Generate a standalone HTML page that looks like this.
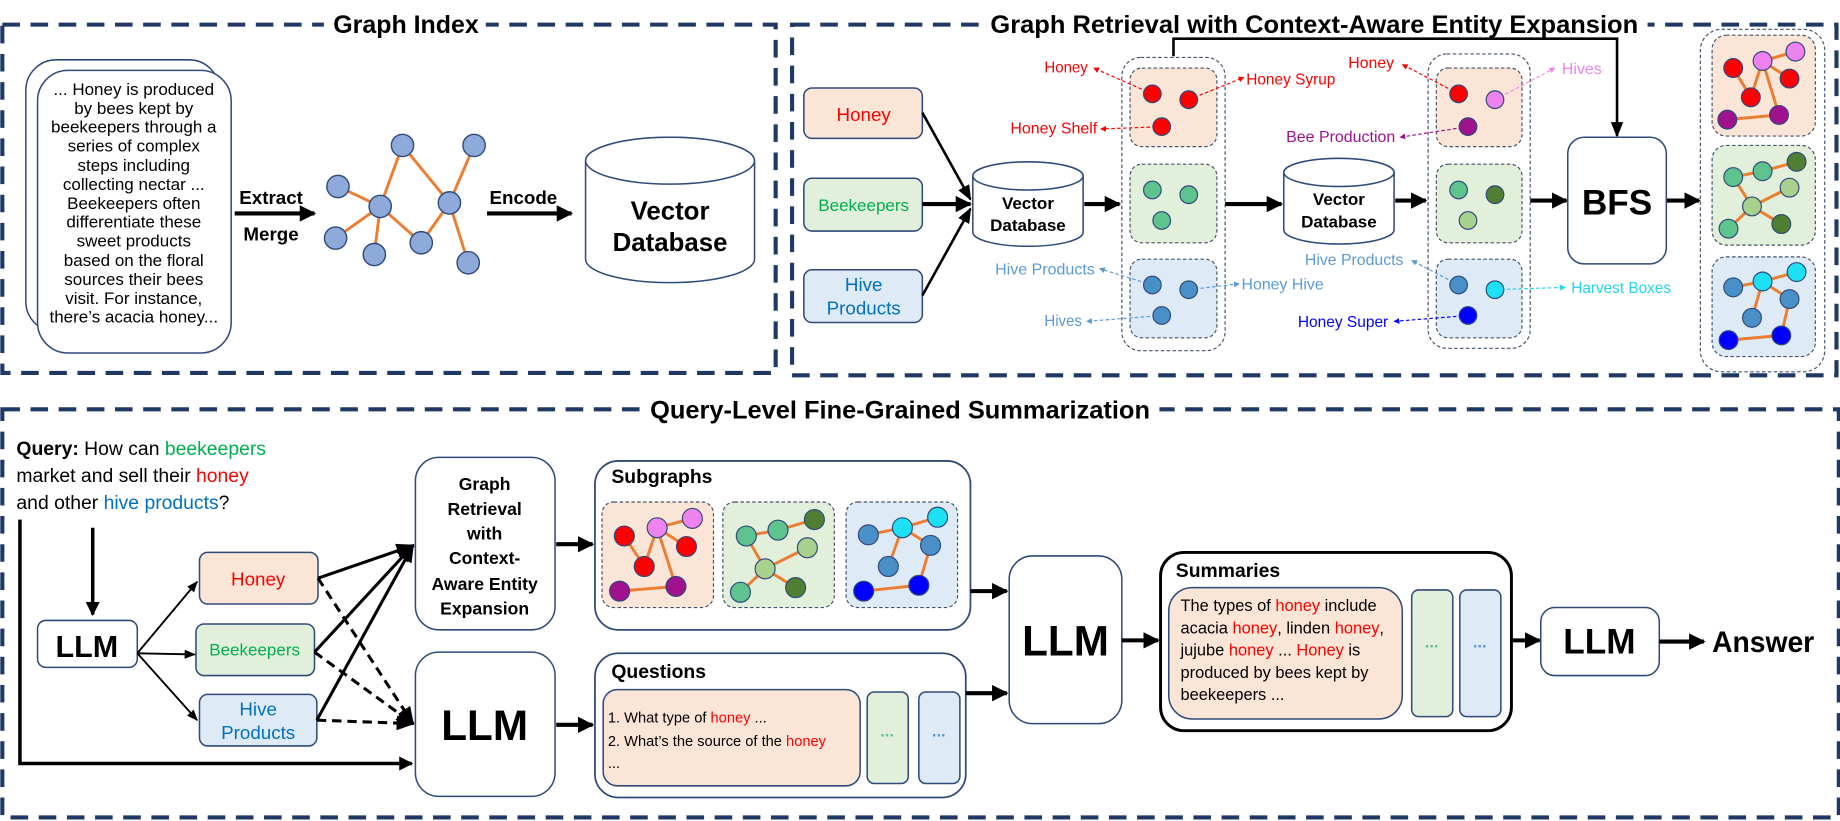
<!DOCTYPE html>
<html><head><meta charset="utf-8"><style>html,body{margin:0;padding:0;background:#fff}svg{display:block}</style></head>
<body>
<svg width="1840" height="821" viewBox="0 0 1568 700" preserveAspectRatio="none" xmlns="http://www.w3.org/2000/svg" font-family="Liberation Sans, sans-serif">
<defs>
<marker id="a" viewBox="0 0 10 10" refX="9" refY="5" markerWidth="4" markerHeight="4" orient="auto"><path d="M0,0L10,5L0,10z" fill="#000"/></marker>
<marker id="at" viewBox="0 0 10 10" refX="9" refY="5" markerWidth="6" markerHeight="6" orient="auto"><path d="M0,1L10,5L0,9z" fill="#000"/></marker>
<marker id="mr" viewBox="0 0 10 10" refX="9" refY="5" markerWidth="5" markerHeight="5" orient="auto"><path d="M0,0L10,5L0,10z" fill="#ff0000"/></marker>
<marker id="mp" viewBox="0 0 10 10" refX="9" refY="5" markerWidth="5" markerHeight="5" orient="auto"><path d="M0,0L10,5L0,10z" fill="#a0128d"/></marker>
<marker id="mv" viewBox="0 0 10 10" refX="9" refY="5" markerWidth="5" markerHeight="5" orient="auto"><path d="M0,0L10,5L0,10z" fill="#ee82ee"/></marker>
<marker id="ml" viewBox="0 0 10 10" refX="9" refY="5" markerWidth="5" markerHeight="5" orient="auto"><path d="M0,0L10,5L0,10z" fill="#5b9bd5"/></marker>
<marker id="mc" viewBox="0 0 10 10" refX="9" refY="5" markerWidth="5" markerHeight="5" orient="auto"><path d="M0,0L10,5L0,10z" fill="#1ed6f0"/></marker>
<marker id="mb" viewBox="0 0 10 10" refX="9" refY="5" markerWidth="5" markerHeight="5" orient="auto"><path d="M0,0L10,5L0,10z" fill="#0000ff"/></marker>
</defs>

<!-- dashed section borders -->
<g fill="none" stroke="#1f3864" stroke-width="3.5" stroke-dasharray="15 9">
<rect x="2" y="21" width="659" height="297"/>
<rect x="675" y="21" width="890" height="299"/>
<rect x="2" y="349" width="1565" height="348"/>
</g>
<g font-weight="bold" font-size="21" text-anchor="middle">
<rect x="276" y="6" width="138" height="28" fill="#fff"/>
<text x="346" y="28" textLength="124" lengthAdjust="spacingAndGlyphs">Graph Index</text>
<rect x="836" y="6" width="568" height="28" fill="#fff"/>
<text x="1120" y="28" textLength="552" lengthAdjust="spacingAndGlyphs">Graph Retrieval with Context-Aware Entity Expansion</text>
<rect x="546" y="334" width="442" height="30" fill="#fff"/>
<text x="767" y="357" textLength="426" lengthAdjust="spacingAndGlyphs">Query-Level Fine-Grained Summarization</text>
</g>

<!-- Graph Index -->
<rect x="22" y="51" width="165" height="232" rx="26" fill="#fff" stroke="#2f4a7a" stroke-width="1.3"/>
<rect x="32" y="60" width="165" height="241" rx="26" fill="#fff" stroke="#2f4a7a" stroke-width="1.3"/>
<g font-size="14.5" text-anchor="middle" fill="#000">
<text x="114" y="81">... Honey is produced</text>
<text x="114" y="97">by bees kept by</text>
<text x="114" y="113">beekeepers through a</text>
<text x="114" y="129">series of complex</text>
<text x="114" y="146">steps including</text>
<text x="114" y="162">collecting nectar ...</text>
<text x="114" y="178">Beekeepers often</text>
<text x="114" y="194">differentiate these</text>
<text x="114" y="210">sweet products</text>
<text x="114" y="227">based on the floral</text>
<text x="114" y="243">sources their bees</text>
<text x="114" y="259">visit. For instance,</text>
<text x="114" y="275">there’s acacia honey...</text>
</g>
<g font-weight="bold" font-size="16" text-anchor="middle">
<text x="231" y="174">Extract</text>
<text x="231" y="205">Merge</text>
<text x="446" y="174">Encode</text>
</g>
<line x1="200" y1="182" x2="268" y2="182" stroke="#000" stroke-width="3.5" marker-end="url(#a)"/>
<line x1="415" y1="182" x2="487" y2="182" stroke="#000" stroke-width="3.5" marker-end="url(#a)"/>
<g stroke="#ed7d31" stroke-width="2.5">
<line x1="288" y1="159" x2="324" y2="176"/><line x1="324" y1="176" x2="343" y2="124"/>
<line x1="343" y1="124" x2="383" y2="173"/><line x1="404" y1="124" x2="383" y2="173"/>
<line x1="383" y1="173" x2="359" y2="207"/><line x1="359" y1="207" x2="324" y2="176"/>
<line x1="324" y1="176" x2="286" y2="203"/><line x1="324" y1="176" x2="319" y2="217"/>
<line x1="383" y1="173" x2="399" y2="224"/>
</g>
<g fill="#8eaadb" stroke="#2f4a7a" stroke-width="1.2">
<circle cx="288" cy="159" r="9.5"/><circle cx="343" cy="124" r="9.5"/><circle cx="404" cy="124" r="9.5"/>
<circle cx="324" cy="176" r="9.5"/><circle cx="383" cy="173" r="9.5"/><circle cx="286" cy="203" r="9.5"/>
<circle cx="319" cy="217" r="9.5"/><circle cx="359" cy="207" r="9.5"/><circle cx="399" cy="224" r="9.5"/>
</g>
<path d="M499,137 V221 A72,20 0 0 0 643,221 V137 A72,20 0 0 0 499,137 Z" fill="#fff" stroke="#2f4a7a" stroke-width="1.3"/>
<ellipse cx="571" cy="137" rx="72" ry="20" fill="#fff" stroke="#2f4a7a" stroke-width="1.3"/>
<g font-weight="bold" font-size="22" text-anchor="middle"><text x="571" y="187">Vector</text><text x="571" y="214">Database</text></g>

<!-- Graph Retrieval -->
<rect x="685" y="75" width="101" height="43" rx="7" fill="#fbe5d6" stroke="#2f4a7a" stroke-width="1.3"/>
<rect x="685" y="152" width="101" height="45" rx="7" fill="#e2efda" stroke="#2f4a7a" stroke-width="1.3"/>
<rect x="685" y="230" width="101" height="45" rx="7" fill="#deebf7" stroke="#2f4a7a" stroke-width="1.3"/>
<text x="736" y="103" font-size="16" text-anchor="middle" fill="#ff0000">Honey</text>
<text x="736" y="180" font-size="14.5" text-anchor="middle" fill="#00b050">Beekeepers</text>
<text x="736" y="248" font-size="16" text-anchor="middle" fill="#0070c0">Hive</text>
<text x="736" y="268" font-size="16" text-anchor="middle" fill="#0070c0">Products</text>
<g stroke="#000" stroke-width="2.2">
<line x1="786" y1="96" x2="827" y2="170" marker-end="url(#at)"/>
<line x1="786" y1="174" x2="827" y2="174" stroke-width="3.5" marker-end="url(#a)"/>
<line x1="786" y1="252" x2="827" y2="178" marker-end="url(#at)"/>
<line x1="924" y1="174" x2="954" y2="174" stroke-width="3.5" marker-end="url(#a)"/>
<line x1="1044" y1="174" x2="1092" y2="174" stroke-width="3.5" marker-end="url(#a)"/>
<line x1="1189" y1="171" x2="1215" y2="171" stroke-width="3.5" marker-end="url(#a)"/>
<line x1="1304" y1="171" x2="1335" y2="171" stroke-width="3.5" marker-end="url(#a)"/>
<line x1="1420" y1="171" x2="1448" y2="171" stroke-width="3.5" marker-end="url(#a)"/>
<polyline points="1000,48 1000,33 1378,33 1378,116" fill="none" marker-end="url(#at)"/>
</g>
<path d="M829,150 V198 A47,12 0 0 0 923,198 V150 A47,12 0 0 0 829,150 Z" fill="#fff" stroke="#2f4a7a" stroke-width="1.3"/>
<ellipse cx="876" cy="150" rx="47" ry="12" fill="#fff" stroke="#2f4a7a" stroke-width="1.3"/>
<g font-weight="bold" font-size="14.5" text-anchor="middle"><text x="876" y="178">Vector</text><text x="876" y="197">Database</text></g>
<path d="M1094,147 V196 A47,12 0 0 0 1188,196 V147 A47,12 0 0 0 1094,147 Z" fill="#fff" stroke="#2f4a7a" stroke-width="1.3"/>
<ellipse cx="1141" cy="147" rx="47" ry="12" fill="#fff" stroke="#2f4a7a" stroke-width="1.3"/>
<g font-weight="bold" font-size="14.5" text-anchor="middle"><text x="1141" y="175">Vector</text><text x="1141" y="194">Database</text></g>

<!-- columns -->
<g fill="none" stroke="#44546a" stroke-width="1" stroke-dasharray="3 2">
<rect x="956" y="49" width="88" height="250" rx="16"/>
<rect x="1217" y="46" width="87" height="251" rx="16"/>
<rect x="1449" y="25" width="106" height="292" rx="18"/>
</g>
<g stroke="#44546a" stroke-width="1" stroke-dasharray="3 2">
<rect x="963" y="58" width="74" height="67" rx="10" fill="#fbe5d6"/>
<rect x="963" y="140" width="74" height="67" rx="10" fill="#e2efda"/>
<rect x="963" y="221" width="74" height="67" rx="10" fill="#deebf7"/>
<rect x="1224" y="58" width="73" height="67" rx="10" fill="#fbe5d6"/>
<rect x="1224" y="140" width="73" height="67" rx="10" fill="#e2efda"/>
<rect x="1224" y="221" width="73" height="67" rx="10" fill="#deebf7"/>
<rect x="1459" y="30" width="88" height="86" rx="12" fill="#fbe5d6"/>
<rect x="1459" y="124" width="88" height="85" rx="12" fill="#e2efda"/>
<rect x="1459" y="219" width="88" height="85" rx="12" fill="#deebf7"/>
</g>
<!-- label arrows -->
<g fill="none" stroke-width="1" stroke-dasharray="3 2">
<line x1="982" y1="80" x2="932" y2="58" stroke="#ff0000" marker-end="url(#mr)"/>
<line x1="1013" y1="85" x2="1060" y2="66" stroke="#ff0000" marker-end="url(#mr)"/>
<line x1="990" y1="108" x2="938" y2="110" stroke="#ff0000" marker-end="url(#mr)"/>
<line x1="982" y1="243" x2="937" y2="229" stroke="#5b9bd5" marker-end="url(#ml)"/>
<line x1="1013" y1="247" x2="1056" y2="242" stroke="#5b9bd5" marker-end="url(#ml)"/>
<line x1="990" y1="269" x2="926" y2="274" stroke="#5b9bd5" marker-end="url(#ml)"/>
<line x1="1243" y1="80" x2="1195" y2="55" stroke="#ff0000" marker-end="url(#mr)"/>
<line x1="1274" y1="85" x2="1325" y2="58" stroke="#ee82ee" marker-end="url(#mv)"/>
<line x1="1251" y1="108" x2="1193" y2="117" stroke="#a0128d" marker-end="url(#mp)"/>
<line x1="1243" y1="243" x2="1203" y2="222" stroke="#5b9bd5" marker-end="url(#ml)"/>
<line x1="1274" y1="247" x2="1334" y2="245" stroke="#1ed6f0" marker-end="url(#mc)"/>
<line x1="1251" y1="269" x2="1188" y2="274" stroke="#0000ff" marker-end="url(#mb)"/>
</g>
<g font-size="13">
<text x="890" y="62" fill="#ff0000" textLength="37" lengthAdjust="spacingAndGlyphs">Honey</text>
<text x="1062" y="72" fill="#ff0000" textLength="76" lengthAdjust="spacingAndGlyphs">Honey Syrup</text>
<text x="861" y="114" fill="#ff0000" textLength="74" lengthAdjust="spacingAndGlyphs">Honey Shelf</text>
<text x="848" y="234" fill="#5b9bd5" textLength="85" lengthAdjust="spacingAndGlyphs">Hive Products</text>
<text x="1058" y="247" fill="#5b9bd5" textLength="70" lengthAdjust="spacingAndGlyphs">Honey Hive</text>
<text x="890" y="278" fill="#5b9bd5" textLength="32" lengthAdjust="spacingAndGlyphs">Hives</text>
<text x="1149" y="58" fill="#ff0000" textLength="39" lengthAdjust="spacingAndGlyphs">Honey</text>
<text x="1331" y="63" fill="#ee82ee" textLength="34" lengthAdjust="spacingAndGlyphs">Hives</text>
<text x="1096" y="121" fill="#a0128d" textLength="93" lengthAdjust="spacingAndGlyphs">Bee Production</text>
<text x="1112" y="226" fill="#5b9bd5" textLength="84" lengthAdjust="spacingAndGlyphs">Hive Products</text>
<text x="1339" y="250" fill="#1ed6f0" textLength="85" lengthAdjust="spacingAndGlyphs">Harvest Boxes</text>
<text x="1106" y="279" fill="#0000ff" textLength="77" lengthAdjust="spacingAndGlyphs">Honey Super</text>
</g>
<g stroke="#2f4a7a" stroke-width="1">
<circle cx="982" cy="80" r="7.5" fill="#ff0000"/><circle cx="1013" cy="85" r="7.5" fill="#ff0000"/><circle cx="990" cy="108" r="7.5" fill="#ff0000"/>
<circle cx="982" cy="162" r="7.5" fill="#5ec38d"/><circle cx="1013" cy="166" r="7.5" fill="#5ec38d"/><circle cx="990" cy="188" r="7.5" fill="#5ec38d"/>
<circle cx="982" cy="243" r="7.5" fill="#4a90c8"/><circle cx="1013" cy="247" r="7.5" fill="#4a90c8"/><circle cx="990" cy="269" r="7.5" fill="#4a90c8"/>
<circle cx="1243" cy="80" r="7.5" fill="#ff0000"/><circle cx="1274" cy="85" r="7.5" fill="#ee82ee"/><circle cx="1251" cy="108" r="7.5" fill="#a0128d"/>
<circle cx="1243" cy="162" r="7.5" fill="#5ec38d"/><circle cx="1274" cy="166" r="7.5" fill="#507e32"/><circle cx="1251" cy="188" r="7.5" fill="#a9d18e"/>
<circle cx="1243" cy="243" r="7.5" fill="#4a90c8"/><circle cx="1274" cy="247" r="7.5" fill="#1ee0f5"/><circle cx="1251" cy="269" r="7.5" fill="#0000ff"/>
</g>
<rect x="1336" y="117" width="84" height="108" rx="14" fill="#fff" stroke="#2f4a7a" stroke-width="1.3"/>
<text x="1378" y="183" font-size="30" font-weight="bold" text-anchor="middle">BFS</text>

<!-- result graphs -->
<g stroke="#ed7d31" stroke-width="2.5">
<line x1="1477" y1="58" x2="1492" y2="83"/><line x1="1502" y1="52" x2="1492" y2="83"/><line x1="1502" y1="52" x2="1530" y2="44"/>
<line x1="1502" y1="52" x2="1525" y2="67"/><line x1="1502" y1="52" x2="1516" y2="98"/><line x1="1472" y1="102" x2="1516" y2="98"/>
<line x1="1477" y1="151" x2="1502" y2="146"/><line x1="1502" y1="146" x2="1531" y2="138"/><line x1="1477" y1="151" x2="1493" y2="176"/>
<line x1="1493" y1="176" x2="1525" y2="160"/><line x1="1493" y1="176" x2="1473" y2="195"/><line x1="1493" y1="176" x2="1518" y2="191"/>
<line x1="1477" y1="245" x2="1502" y2="240"/><line x1="1502" y1="240" x2="1531" y2="232"/><line x1="1502" y1="240" x2="1525" y2="255"/>
<line x1="1502" y1="240" x2="1493" y2="271"/><line x1="1525" y1="255" x2="1518" y2="286"/><line x1="1473" y1="290" x2="1518" y2="286"/>
</g>
<g stroke="#2f4a7a" stroke-width="1">
<circle cx="1477" cy="58" r="8" fill="#ff0000"/><circle cx="1502" cy="52" r="8" fill="#ee82ee"/><circle cx="1530" cy="44" r="8" fill="#ee82ee"/>
<circle cx="1525" cy="67" r="8" fill="#ff0000"/><circle cx="1492" cy="83" r="8" fill="#ff0000"/><circle cx="1472" cy="102" r="8" fill="#a0128d"/><circle cx="1516" cy="98" r="8" fill="#a0128d"/>
<circle cx="1477" cy="151" r="8" fill="#5ec38d"/><circle cx="1502" cy="146" r="8" fill="#5ec38d"/><circle cx="1531" cy="138" r="8" fill="#507e32"/>
<circle cx="1525" cy="160" r="8" fill="#a9d18e"/><circle cx="1493" cy="176" r="8" fill="#a9d18e"/><circle cx="1473" cy="195" r="8" fill="#5ec38d"/><circle cx="1518" cy="191" r="8" fill="#507e32"/>
<circle cx="1477" cy="245" r="8" fill="#4a90c8"/><circle cx="1502" cy="240" r="8" fill="#1ee0f5"/><circle cx="1531" cy="232" r="8" fill="#1ee0f5"/>
<circle cx="1525" cy="255" r="8" fill="#4a90c8"/><circle cx="1493" cy="271" r="8" fill="#4a90c8"/><circle cx="1473" cy="290" r="8" fill="#0000ff"/><circle cx="1518" cy="286" r="8" fill="#0000ff"/>
</g>

<!-- Bottom section -->
<g font-size="16.5">
<text x="14" y="388"><tspan font-weight="bold">Query:</tspan> How can <tspan fill="#00b050">beekeepers</tspan></text>
<text x="14" y="411">market and sell their <tspan fill="#ff0000">honey</tspan></text>
<text x="14" y="434">and other <tspan fill="#0070c0">hive products</tspan>?</text>
</g>
<polyline points="17,443 17,651 351,651" fill="none" stroke="#000" stroke-width="3" marker-end="url(#a)"/>
<line x1="79" y1="450" x2="79" y2="524" stroke="#000" stroke-width="3" marker-end="url(#a)"/>
<rect x="32" y="529" width="85" height="40" rx="7" fill="#fff" stroke="#2f4a7a" stroke-width="1.3"/>
<text x="74" y="560" font-size="26" font-weight="bold" text-anchor="middle">LLM</text>
<rect x="170" y="471" width="101" height="44" rx="7" fill="#fbe5d6" stroke="#2f4a7a" stroke-width="1.3"/>
<rect x="167" y="532" width="101" height="44" rx="7" fill="#e2efda" stroke="#2f4a7a" stroke-width="1.3"/>
<rect x="170" y="592" width="100" height="44" rx="7" fill="#deebf7" stroke="#2f4a7a" stroke-width="1.3"/>
<text x="220" y="499" font-size="16" text-anchor="middle" fill="#ff0000">Honey</text>
<text x="217" y="559" font-size="14.5" text-anchor="middle" fill="#00b050">Beekeepers</text>
<text x="220" y="610" font-size="16" text-anchor="middle" fill="#0070c0">Hive</text>
<text x="220" y="630" font-size="16" text-anchor="middle" fill="#0070c0">Products</text>
<g stroke="#000" stroke-width="1.6">
<line x1="117" y1="557" x2="168" y2="496" marker-end="url(#at)"/>
<line x1="117" y1="557" x2="166" y2="558" marker-end="url(#at)"/>
<line x1="117" y1="557" x2="168" y2="614" marker-end="url(#at)"/>
</g>
<g stroke="#000" stroke-width="2.6">
<line x1="271" y1="493" x2="352" y2="465" marker-end="url(#at)"/>
<line x1="268" y1="556" x2="352" y2="465" marker-end="url(#at)"/>
<line x1="270" y1="614" x2="352" y2="465" marker-end="url(#at)"/>
</g>
<g stroke="#000" stroke-width="2.6" stroke-dasharray="8 5">
<line x1="271" y1="493" x2="352" y2="617" marker-end="url(#at)"/>
<line x1="268" y1="556" x2="352" y2="617" marker-end="url(#at)"/>
<line x1="270" y1="614" x2="352" y2="617" marker-end="url(#at)"/>
</g>
<rect x="354" y="390" width="119" height="147" rx="20" fill="#fff" stroke="#2f4a7a" stroke-width="1.3"/>
<g font-size="15" font-weight="bold" text-anchor="middle">
<text x="413" y="418">Graph</text><text x="413" y="439">Retrieval</text><text x="413" y="460">with</text>
<text x="413" y="481">Context-</text><text x="413" y="503">Aware Entity</text><text x="413" y="524">Expansion</text>
</g>
<rect x="354" y="556" width="119" height="123" rx="20" fill="#fff" stroke="#2f4a7a" stroke-width="1.3"/>
<text x="413" y="631" font-size="36" font-weight="bold" text-anchor="middle">LLM</text>
<line x1="474" y1="464" x2="505" y2="464" stroke="#000" stroke-width="3.5" marker-end="url(#a)"/>
<line x1="474" y1="618" x2="505" y2="618" stroke="#000" stroke-width="3.5" marker-end="url(#a)"/>

<rect x="507" y="393" width="320" height="144" rx="20" fill="#fff" stroke="#2f4a7a" stroke-width="1.5"/>
<text x="521" y="412" font-size="16.5" font-weight="bold">Subgraphs</text>
<g stroke="#44546a" stroke-width="1" stroke-dasharray="3 2">
<rect x="513" y="428" width="95" height="90" rx="10" fill="#fbe5d6"/>
<rect x="616" y="428" width="95" height="90" rx="10" fill="#e2efda"/>
<rect x="721" y="428" width="95" height="90" rx="10" fill="#deebf7"/>
</g>
<g stroke="#ed7d31" stroke-width="2.5">
<line x1="532" y1="457" x2="549" y2="483"/><line x1="560" y1="450" x2="549" y2="483"/><line x1="560" y1="450" x2="590" y2="442"/>
<line x1="560" y1="450" x2="585" y2="466"/><line x1="560" y1="450" x2="576" y2="500"/><line x1="528" y1="504" x2="576" y2="500"/>
<line x1="636" y1="457" x2="663" y2="452"/><line x1="663" y1="452" x2="694" y2="443"/><line x1="636" y1="457" x2="652" y2="485"/>
<line x1="652" y1="485" x2="688" y2="467"/><line x1="652" y1="485" x2="631" y2="505"/><line x1="652" y1="485" x2="678" y2="501"/>
<line x1="740" y1="456" x2="769" y2="450"/><line x1="769" y1="450" x2="799" y2="441"/><line x1="769" y1="450" x2="793" y2="465"/>
<line x1="769" y1="450" x2="757" y2="483"/><line x1="793" y1="465" x2="783" y2="499"/><line x1="736" y1="504" x2="783" y2="499"/>
</g>
<g stroke="#2f4a7a" stroke-width="1">
<circle cx="532" cy="457" r="8.5" fill="#ff0000"/><circle cx="560" cy="450" r="8.5" fill="#ee82ee"/><circle cx="590" cy="442" r="8.5" fill="#ee82ee"/>
<circle cx="585" cy="466" r="8.5" fill="#ff0000"/><circle cx="549" cy="483" r="8.5" fill="#ff0000"/><circle cx="528" cy="504" r="8.5" fill="#a0128d"/><circle cx="576" cy="500" r="8.5" fill="#a0128d"/>
<circle cx="636" cy="457" r="8.5" fill="#5ec38d"/><circle cx="663" cy="452" r="8.5" fill="#5ec38d"/><circle cx="694" cy="443" r="8.5" fill="#507e32"/>
<circle cx="688" cy="467" r="8.5" fill="#a9d18e"/><circle cx="652" cy="485" r="8.5" fill="#a9d18e"/><circle cx="631" cy="505" r="8.5" fill="#5ec38d"/><circle cx="678" cy="501" r="8.5" fill="#507e32"/>
<circle cx="740" cy="456" r="8.5" fill="#4a90c8"/><circle cx="769" cy="450" r="8.5" fill="#1ee0f5"/><circle cx="799" cy="441" r="8.5" fill="#1ee0f5"/>
<circle cx="793" cy="465" r="8.5" fill="#4a90c8"/><circle cx="757" cy="483" r="8.5" fill="#4a90c8"/><circle cx="736" cy="504" r="8.5" fill="#0000ff"/><circle cx="783" cy="499" r="8.5" fill="#0000ff"/>
</g>

<rect x="507" y="557" width="316" height="123" rx="20" fill="#fff" stroke="#2f4a7a" stroke-width="1.5"/>
<text x="521" y="578" font-size="16.5" font-weight="bold">Questions</text>
<rect x="514" y="588" width="219" height="82" rx="12" fill="#fbe5d6" stroke="#2f4a7a" stroke-width="1.3"/>
<rect x="739" y="590" width="35" height="78" rx="6" fill="#e2efda" stroke="#2f4a7a" stroke-width="1.3"/>
<rect x="783" y="590" width="35" height="78" rx="6" fill="#deebf7" stroke="#2f4a7a" stroke-width="1.3"/>
<g font-size="12.5">
<text x="518" y="616">1. What type of <tspan fill="#ff0000">honey</tspan> ...</text>
<text x="518" y="636">2. What’s the source of the <tspan fill="#ff0000">honey</tspan></text>
<text x="518" y="655">...</text>
</g>
<text x="756" y="628" font-size="14" font-weight="bold" text-anchor="middle" fill="#5ec38d">...</text>
<text x="800" y="628" font-size="14" font-weight="bold" text-anchor="middle" fill="#5b9bd5">...</text>

<line x1="827" y1="504" x2="858" y2="504" stroke="#000" stroke-width="3.5" marker-end="url(#a)"/>
<line x1="823" y1="591" x2="858" y2="591" stroke="#000" stroke-width="3.5" marker-end="url(#a)"/>
<rect x="860" y="474" width="96" height="143" rx="20" fill="#fff" stroke="#2f4a7a" stroke-width="1.3"/>
<text x="908" y="559" font-size="36" font-weight="bold" text-anchor="middle">LLM</text>
<line x1="956" y1="546" x2="987" y2="546" stroke="#000" stroke-width="3.5" marker-end="url(#a)"/>

<rect x="989" y="471" width="299" height="152" rx="20" fill="#fff" stroke="#000" stroke-width="2.5"/>
<text x="1002" y="492" font-size="16.5" font-weight="bold">Summaries</text>
<rect x="996" y="501" width="199" height="112" rx="20" fill="#fbe5d6" stroke="#2f4a7a" stroke-width="1.3"/>
<rect x="1203" y="503" width="35" height="108" rx="6" fill="#e2efda" stroke="#2f4a7a" stroke-width="1.3"/>
<rect x="1244" y="503" width="35" height="108" rx="6" fill="#deebf7" stroke="#2f4a7a" stroke-width="1.3"/>
<g font-size="14">
<text x="1006" y="521">The types of <tspan fill="#ff0000">honey</tspan> include</text>
<text x="1006" y="540">acacia <tspan fill="#ff0000">honey</tspan>, linden <tspan fill="#ff0000">honey</tspan>,</text>
<text x="1006" y="559">jujube <tspan fill="#ff0000">honey</tspan>  ... <tspan fill="#ff0000">Honey</tspan> is</text>
<text x="1006" y="578">produced by bees kept by</text>
<text x="1006" y="597">beekeepers ...</text>
</g>
<text x="1220" y="552" font-size="14" font-weight="bold" text-anchor="middle" fill="#5ec38d">...</text>
<text x="1261" y="552" font-size="14" font-weight="bold" text-anchor="middle" fill="#5b9bd5">...</text>
<line x1="1288" y1="546" x2="1312" y2="546" stroke="#000" stroke-width="3.5" marker-end="url(#a)"/>
<rect x="1313" y="518" width="101" height="58" rx="12" fill="#fff" stroke="#2f4a7a" stroke-width="1.3"/>
<text x="1363" y="557" font-size="30" font-weight="bold" text-anchor="middle">LLM</text>
<line x1="1414" y1="547" x2="1452" y2="547" stroke="#000" stroke-width="3.5" marker-end="url(#a)"/>
<text x="1459" y="556" font-size="25" font-weight="bold" textLength="87" lengthAdjust="spacingAndGlyphs">Answer</text>
</svg>
</body></html>
